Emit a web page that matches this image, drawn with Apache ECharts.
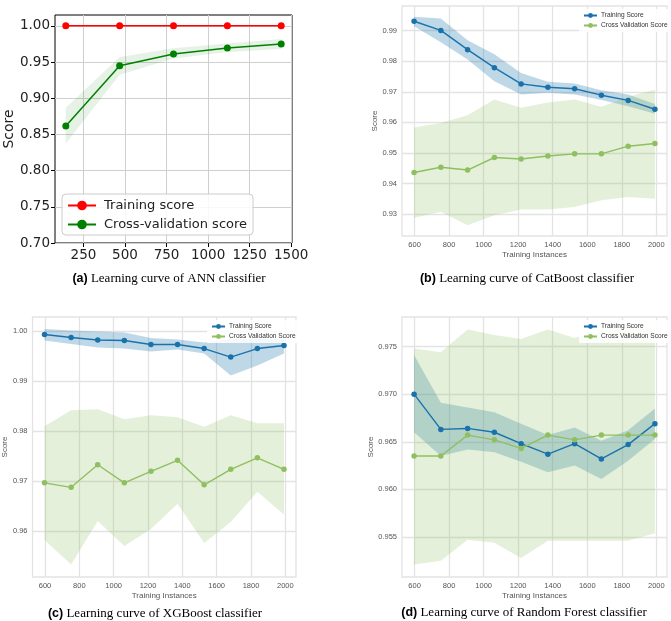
<!DOCTYPE html>
<html>
<head>
<meta charset="utf-8">
<script src="https://cdn.jsdelivr.net/npm/echarts@6/dist/echarts.min.js"></script>
<style>
  html, body { margin: 0; padding: 0; background: #fff; }
  #chart { width: 671px; height: 621px; }
</style>
</head>
<body>
<div id="chart"></div>
<script>
// (a) ANN
var annSizes = [144, 468, 792, 1116, 1440];
var annTrain = [1, 1, 1, 1, 1];
var annCv = [0.8615, 0.945, 0.961, 0.9695, 0.9748];
var annCvLo = [0.8376, 0.9326, 0.955, 0.9638, 0.968];
var annCvHi = [0.8867, 0.957, 0.969, 0.9757, 0.9817];
var annXTicks = [250, 500, 750, 1000, 1250, 1500];
var annYTicks = [0.70, 0.75, 0.80, 0.85, 0.90, 0.95, 1.00];

// (b)(c)(d) share the training sizes
var sizes = [597, 752, 907, 1062, 1217, 1372, 1527, 1682, 1837, 1992];
var sizeTicks = [600, 800, 1000, 1200, 1400, 1600, 1800, 2000];

// (b) CatBoost
var catTrain = [0.9931, 0.9901, 0.9838, 0.9779, 0.9726, 0.9715, 0.9710, 0.9689, 0.9672, 0.9643];
var catTrainHi = [0.9946, 0.9940, 0.9869, 0.9823, 0.9762, 0.9733, 0.9727, 0.9705, 0.9691, 0.9660];
var catTrainLo = [0.9915, 0.9862, 0.9806, 0.9735, 0.9691, 0.9697, 0.9691, 0.9673, 0.9653, 0.9628];
var catCv = [0.9436, 0.9453, 0.9444, 0.9485, 0.9480, 0.9490, 0.9497, 0.9497, 0.9522, 0.9531];
var catCvHi = [0.9583, 0.9598, 0.9623, 0.9675, 0.9648, 0.9665, 0.9675, 0.9651, 0.9684, 0.9707];
var catCvLo = [0.9288, 0.9307, 0.9263, 0.9296, 0.9315, 0.9315, 0.9323, 0.9345, 0.9356, 0.9350];
var catYTicks = [0.93, 0.94, 0.95, 0.96, 0.97, 0.98, 0.99];

// (c) XGBoost
var xgbTrain = [0.9993, 0.9987, 0.9982, 0.9981, 0.9973, 0.9973, 0.9965, 0.9948, 0.9965, 0.9971];
var xgbTrainHi = [1.0004, 1.0001, 0.9999, 0.9997, 0.9986, 0.9983, 0.9977, 0.9984, 0.9984, 0.9984];
var xgbTrainLo = [0.9981, 0.9974, 0.9967, 0.9965, 0.9959, 0.9963, 0.9955, 0.9911, 0.9931, 0.9955];
var xgbCv = [0.9697, 0.9688, 0.9733, 0.9697, 0.9720, 0.9742, 0.9693, 0.9724, 0.9747, 0.9724];
var xgbCvHi = [0.9810, 0.9842, 0.9844, 0.9824, 0.9832, 0.9828, 0.9809, 0.9832, 0.9816, 0.9816];
var xgbCvLo = [0.9583, 0.9534, 0.9621, 0.9571, 0.9605, 0.9655, 0.9577, 0.9619, 0.9679, 0.9634];
var xgbYTicks = [0.96, 0.97, 0.98, 0.99, 1.00];

// (d) Random Forest
var rfTrain = [0.9700, 0.9663, 0.9664, 0.9660, 0.9648, 0.9637, 0.9648, 0.9632, 0.9647, 0.9669];
var rfTrainHi = [0.9741, 0.9691, 0.9686, 0.9681, 0.9669, 0.9657, 0.9665, 0.9651, 0.9662, 0.9685];
var rfTrainLo = [0.9660, 0.9635, 0.9642, 0.9639, 0.9629, 0.9618, 0.9625, 0.9611, 0.9630, 0.9653];
var rfCv = [0.9635, 0.9635, 0.9657, 0.9652, 0.9643, 0.9657, 0.9652, 0.9657, 0.9657, 0.9657];
var rfCvHi = [0.9748, 0.9744, 0.9768, 0.9762, 0.9758, 0.9768, 0.9759, 0.9767, 0.9769, 0.9769];
var rfCvLo = [0.9521, 0.9525, 0.9547, 0.9544, 0.9528, 0.9546, 0.9546, 0.9546, 0.9546, 0.9554];
var rfYTicks = [0.955, 0.960, 0.965, 0.970, 0.975];

var BLUE = '#1a72ab', GREEN = '#8fbf60';
var BLUE_BAND = 'rgba(26,114,171,0.28)', GREEN_BAND = 'rgba(143,191,96,0.24)';
var NARROW = 'Liberation Sans Narrow, Liberation Sans, sans-serif';

function zip(xs, ys) {
  return xs.map(function (x, i) { return [x, ys[i]]; });
}

function plain(v) { return String(v); }

// filled band between lo and hi, drawn as one polygon through the axes
function band(xs, lo, hi, color, idx) {
  return {
    type: 'custom', xAxisIndex: idx, yAxisIndex: idx, silent: true, z: 1,
    data: xs.map(function (x, i) { return [x, lo[i], hi[i]]; }),
    encode: { x: 0, y: [1, 2] },
    renderItem: function (params, api) {
      if (params.dataIndex !== 0) return;
      var pts = [];
      for (var i = 0; i < xs.length; i++) pts.push(api.coord([xs[i], hi[i]]));
      for (var j = xs.length - 1; j >= 0; j--) pts.push(api.coord([xs[j], lo[j]]));
      return { type: 'polygon', shape: { points: pts }, style: { fill: color } };
    }
  };
}

function line(name, xs, ys, color, idx, size, width) {
  return {
    name: name, type: 'line', xAxisIndex: idx, yAxisIndex: idx, z: 3,
    data: zip(xs, ys), symbol: 'circle', symbolSize: size, showSymbol: true,
    lineStyle: { color: color, width: width }, itemStyle: { color: color },
    emphasis: { disabled: true }
  };
}

function ybAxisX(idx) {
  return {
    type: 'value', gridIndex: idx, min: 527, max: 2062,
    name: 'Training Instances', nameLocation: 'middle', nameGap: 15,
    nameTextStyle: { fontFamily: NARROW, fontSize: 8, color: '#555' },
    axisLine: { show: false }, axisTick: { show: false, customValues: sizeTicks },
    axisLabel: { customValues: sizeTicks, fontFamily: NARROW, fontSize: 7.5, color: '#555', margin: 5, formatter: plain },
    splitLine: { show: true, lineStyle: { color: '#e3e3e3', width: 1.3 } }
  };
}

function ybAxisY(idx, min, max, ticks, digits) {
  return {
    type: 'value', gridIndex: idx, min: min, max: max,
    name: 'Score', nameLocation: 'middle', nameGap: 19, nameRotate: 90,
    nameTextStyle: { fontFamily: NARROW, fontSize: 8, color: '#555' },
    axisLine: { show: false }, axisTick: { show: false, customValues: ticks },
    axisLabel: {
      customValues: ticks, fontFamily: NARROW, fontSize: 7.5, color: '#555', margin: 5,
      formatter: function (v) { return v.toFixed(digits); }
    },
    splitLine: { show: true, lineStyle: { color: '#e3e3e3', width: 1.3 } }
  };
}

function ybLegend(left, top) {
  return {
    data: ['Training Score', 'Cross Validation Score'], orient: 'vertical',
    left: left, top: top, itemWidth: 13, itemHeight: 6, itemGap: 3, padding: [3, 3, 3, 4],
    backgroundColor: 'rgba(255,255,255,0.85)', selectedMode: false,
    textStyle: { fontFamily: NARROW, fontSize: 6.6, color: '#333', padding: [0, 0, 0, -1] }
  };
}

function caption(tag, rest, cx, top) {
  return {
    text: '{b|' + tag + '} ' + rest, left: cx, top: top, textAlign: 'center',
    textStyle: {
      fontFamily: 'Liberation Serif', fontSize: 13, fontWeight: 'normal', color: '#000',
      rich: { b: { fontFamily: 'Liberation Sans', fontWeight: 'bold', fontSize: 12.5, color: '#000' } }
    }
  };
}

var chart = echarts.init(document.getElementById('chart'), null, { renderer: 'canvas' });

var option = {
  animation: false,
  backgroundColor: '#fff',
  title: [
    caption('(a)', 'Learning curve of ANN classifier', 164, 267),
    caption('(b)', 'Learning curve of CatBoost classifier', 522, 267),
    caption('(c)', 'Learning curve of XGBoost classifier', 150, 602),
    caption('(d)', 'Learning curve of Random Forest classifier', 519, 601)
  ],
  grid: [
    { left: 55, top: 15, width: 237, height: 228, show: true, borderColor: '#000', borderWidth: 1, backgroundColor: '#fff' },
    { left: 402, top: 6, width: 265, height: 230, show: true, borderColor: '#e3e3e3', borderWidth: 1.3 },
    { left: 30, top: 317, width: 266, height: 260, show: true, borderColor: '#e3e3e3', borderWidth: 1.3 },
    { left: 402, top: 317, width: 265, height: 260, show: true, borderColor: '#e3e3e3', borderWidth: 1.3 }
  ],
  xAxis: [
    {
      type: 'value', gridIndex: 0, min: 79, max: 1505,
      axisLine: { show: false },
      axisTick: { show: true, customValues: annXTicks, length: 4, lineStyle: { color: '#000' } },
      axisLabel: { customValues: annXTicks, fontFamily: 'DejaVu Sans', fontSize: 13.5, color: '#222', margin: 5, formatter: plain },
      splitLine: { show: true, lineStyle: { color: '#cfcfcf', width: 1 } }
    },
    ybAxisX(1), ybAxisX(2), ybAxisX(3)
  ],
  yAxis: [
    {
      type: 'value', gridIndex: 0, min: 0.70, max: 1.015,
      name: 'Score', nameLocation: 'middle', nameGap: 34, nameRotate: 90,
      nameTextStyle: { fontFamily: 'DejaVu Sans', fontSize: 14, color: '#222' },
      axisLine: { show: false },
      axisTick: { show: true, customValues: annYTicks, length: 4, lineStyle: { color: '#000' } },
      axisLabel: {
        customValues: annYTicks, fontFamily: 'DejaVu Sans', fontSize: 13.5, color: '#222', margin: 5,
        formatter: function (v) { return v.toFixed(2); }
      },
      splitLine: { show: true, lineStyle: { color: '#cfcfcf', width: 1 } }
    },
    ybAxisY(1, 0.9228, 0.9981, catYTicks, 2),
    ybAxisY(2, 0.9509, 1.0028, xgbYTicks, 2),
    ybAxisY(3, 0.9508, 0.9781, rfYTicks, 3)
  ],
  legend: [
    {
      data: ['Training score', 'Cross-validation score'], orient: 'vertical',
      left: 62, top: 194, itemWidth: 28, itemHeight: 12, itemGap: 6, padding: [5, 6, 4, 5],
      borderColor: '#cccccc', borderWidth: 1, borderRadius: 4,
      backgroundColor: 'rgba(255,255,255,0.85)', selectedMode: false,
      textStyle: { fontFamily: 'DejaVu Sans', fontSize: 13, color: '#222', padding: [0, 0, 0, 3] }
    },
    ybLegend(579, 9),
    ybLegend(207, 320),
    ybLegend(579, 320)
  ],
  series: [
    band(annSizes, annCvLo, annCvHi, 'rgba(0,128,0,0.1)', 0),
    line('Training score', annSizes, annTrain, '#ff0000', 0, 7, 1.5),
    line('Cross-validation score', annSizes, annCv, '#008000', 0, 7, 1.5),

    band(sizes, catTrainLo, catTrainHi, BLUE_BAND, 1),
    band(sizes, catCvLo, catCvHi, GREEN_BAND, 1),
    line('Training Score', sizes, catTrain, BLUE, 1, 5.5, 1.4),
    line('Cross Validation Score', sizes, catCv, GREEN, 1, 5.5, 1.4),

    band(sizes, xgbTrainLo, xgbTrainHi, BLUE_BAND, 2),
    band(sizes, xgbCvLo, xgbCvHi, GREEN_BAND, 2),
    line('Training Score', sizes, xgbTrain, BLUE, 2, 5.5, 1.4),
    line('Cross Validation Score', sizes, xgbCv, GREEN, 2, 5.5, 1.4),

    band(sizes, rfTrainLo, rfTrainHi, BLUE_BAND, 3),
    band(sizes, rfCvLo, rfCvHi, GREEN_BAND, 3),
    line('Training Score', sizes, rfTrain, BLUE, 3, 5.5, 1.4),
    line('Cross Validation Score', sizes, rfCv, GREEN, 3, 5.5, 1.4)
  ]
};

chart.setOption(option);
</script>
</body>
</html>
